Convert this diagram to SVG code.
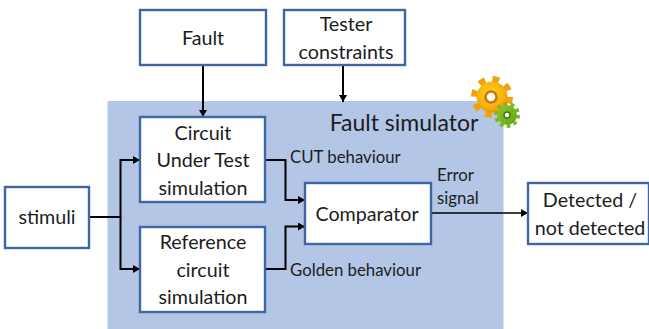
<svg xmlns="http://www.w3.org/2000/svg" width="649" height="329" viewBox="0 0 649 329">
<defs>
<style>
.b{fill:#fff;stroke:#3f66a3;stroke-width:2.4}
.t{font-family:Lato,"Open Sans",sans-serif;fill:#1c1c1c;text-anchor:middle;font-size:19.700px}
.s{font-family:Lato,"Open Sans",sans-serif;fill:#1c1c1c;font-size:16.800px}
.c{fill:none;stroke:#000;stroke-width:2;marker-end:url(#a)}
</style>
<marker id="a" markerUnits="userSpaceOnUse" markerWidth="8" markerHeight="8" refX="7" refY="4" orient="auto"><path d="M0,0L7,4L0,8z" fill="#000"/></marker>
<radialGradient id="y" cx="45%" cy="40%" r="65%"><stop offset="0" stop-color="#ffd81f"/><stop offset="0.7" stop-color="#f7ad0c"/><stop offset="1" stop-color="#e98a0a"/></radialGradient>
<linearGradient id="g" x1="0" y1="0" x2="1" y2="1"><stop offset="0" stop-color="#8fcb2a"/><stop offset="1" stop-color="#5ea414"/></linearGradient>
</defs>
<rect id="simulator" x="107.500" y="101" width="396" height="228" fill="#b3c6e6"/>
<text class="t" x="404" y="131" style="font-size:23px">Fault simulator</text>
<g id="gears">
<circle cx="492" cy="97" r="17.500" fill="none" stroke="#f2a00c" stroke-width="7" stroke-dasharray="6.500 7.240"/>
<circle cx="492" cy="97" r="15.500" fill="url(#y)"/>
<circle cx="491" cy="97" r="5.500" fill="#fff" stroke="#c9770e" stroke-width="2.500"/>
<circle cx="507" cy="115" r="11" fill="none" stroke="#76b81f" stroke-width="4" stroke-dasharray="3.500 3.410"/>
<circle cx="507" cy="115" r="10" fill="url(#g)"/>
<circle cx="507" cy="115" r="3" fill="#fff" stroke="#3f7a10" stroke-width="1.500"/>
</g>
<g id="connectors">
<path class="c" d="M203 65V117"/>
<path class="c" d="M343 65V102"/>
<path class="c" d="M89 217H120.500V160H140"/>
<path class="c" d="M120.500 217V269H140"/>
<path class="c" d="M265 160H285.500V200H305"/>
<path class="c" d="M265 269H285.500V226.500H305"/>
<path class="c" style="stroke-width:1.700" d="M431 213H528"/>
</g>
<g id="fault"><rect class="b" x="140" y="10" width="126" height="55"/><text class="t" x="203" y="45">Fault</text></g>
<g id="tester"><rect class="b" x="284" y="10" width="121" height="55"/><text class="t" x="346" y="31">Tester</text><text class="t" x="346" y="59">constraints</text></g>
<g id="cut"><rect class="b" x="140" y="117" width="125" height="85"/><text class="t" x="203" y="140">Circuit</text><text class="t" x="203" y="167">Under Test</text><text class="t" x="203" y="195">simulation</text></g>
<g id="ref"><rect class="b" x="140" y="227" width="125" height="85"/><text class="t" x="203" y="249">Reference</text><text class="t" x="203" y="277">circuit</text><text class="t" x="203" y="304">simulation</text></g>
<g id="stimuli"><rect class="b" x="5" y="187" width="84" height="61"/><text class="t" x="47" y="224">stimuli</text></g>
<g id="comparator"><rect class="b" x="305" y="183" width="126" height="61"/><text class="t" x="367" y="221">Comparator</text></g>
<g id="detected"><rect class="b" x="528" y="183" width="121" height="61"/><text class="t" x="590" y="207">Detected /</text><text class="t" x="590" y="235">not detected</text></g>
<text class="s" x="290" y="163">CUT behaviour</text>
<text class="s" x="290" y="276">Golden behaviour</text>
<text class="s" x="437" y="181">Error</text>
<text class="s" x="437" y="204">signal</text>
</svg>
